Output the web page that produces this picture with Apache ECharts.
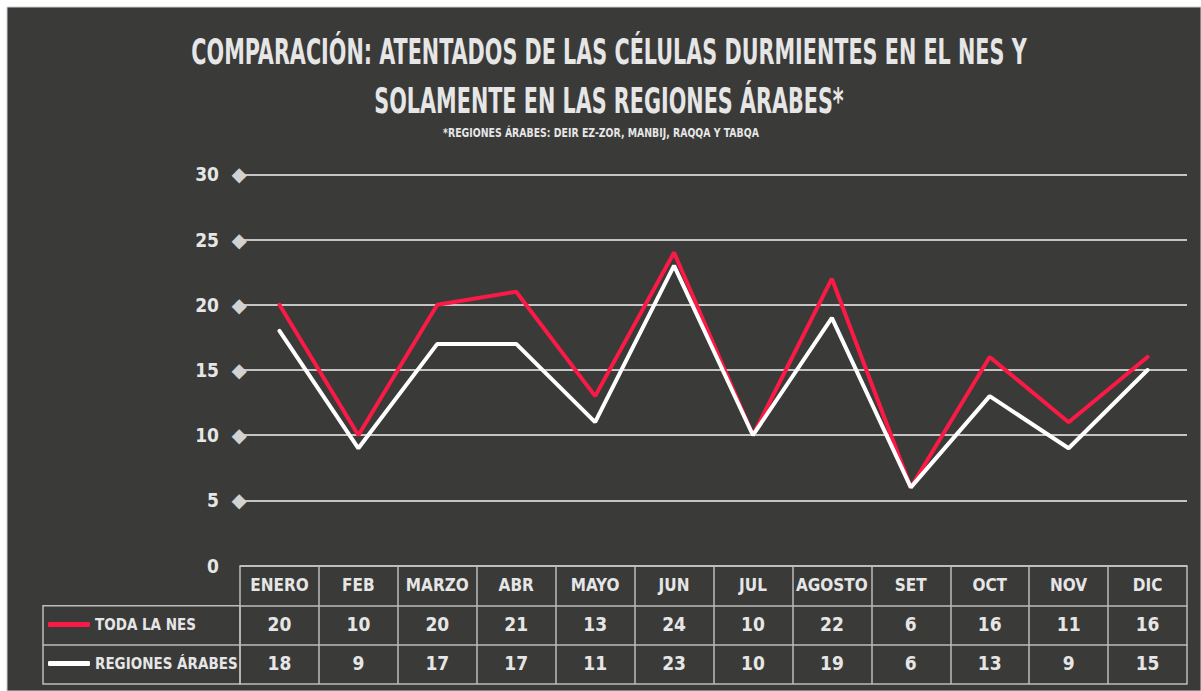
<!DOCTYPE html>
<html>
<head>
<meta charset="utf-8">
<script src="https://cdn.jsdelivr.net/npm/echarts@6/dist/echarts.min.js"></script>
<style>
  html, body { margin: 0; padding: 0; background: #fff; }
  #chart { width: 1201px; height: 691px; }
</style>
</head>
<body>
<div id="chart"></div>
<script>
// data
const meses = ['ENERO', 'FEB', 'MARZO', 'ABR', 'MAYO', 'JUN', 'JUL', 'AGOSTO', 'SET', 'OCT', 'NOV', 'DIC']
const todaLaNes = [20, 10, 20, 21, 13, 24, 10, 22, 6, 16, 11, 16]
const regionesArabes = [18, 9, 17, 17, 11, 23, 10, 19, 6, 13, 9, 15]
const yTicks = [0, 5, 10, 15, 20, 25, 30]

const titulo1 = 'COMPARACIÓN: ATENTADOS DE LAS CÉLULAS DURMIENTES EN EL NES Y'
const titulo2 = 'SOLAMENTE EN LAS REGIONES ÁRABES*'
const nota = '*REGIONES ÁRABES: DEIR EZ-ZOR, MANBIJ, RAQQA Y TABQA'

const FONT = "'DejaVu Sans Condensed', 'Liberation Sans Narrow', sans-serif"
const TXT = '#e6e6e6'
const BORDER = '#bdbdbd'

let myChart = echarts.init(document.getElementById('chart'), null, { renderer: 'svg' })

// one category axis per table row, stacked under the plot
function tablaEje(data, offset, tickLen, margin, size) {
  return {
    type: 'category',
    data: data.map(String),
    position: 'bottom',
    offset: offset,
    boundaryGap: true,
    axisLine: { show: true, lineStyle: { color: BORDER, width: 1.5 } },
    axisTick: { show: tickLen > 0, length: tickLen, lineStyle: { color: BORDER, width: 1.5 } },
    axisLabel: {
      show: data.length > 0,
      interval: 0,
      hideOverlap: false,
      margin: margin,
      color: TXT,
      fontFamily: FONT,
      fontWeight: 'bold',
      fontSize: size,
      lineHeight: 20
    },
    splitLine: { show: false }
  }
}

let option = {
  backgroundColor: '#fff',
  animation: false,
  graphic: [
    { type: 'rect', z: -10, silent: true, shape: { x: 7, y: 7, width: 1194, height: 684 },
      style: { fill: '#3a3a39', stroke: '#cfcfcf', lineWidth: 1 } },
    { type: 'text', x: 609, y: 51, scaleX: 0.64,
      style: { text: titulo1, textAlign: 'center', textVerticalAlign: 'middle', fill: TXT,
               font: `bold 36px ${FONT}` } },
    { type: 'text', x: 609, y: 100, scaleX: 0.64,
      style: { text: titulo2, textAlign: 'center', textVerticalAlign: 'middle', fill: TXT,
               font: `bold 36px ${FONT}` } },
    { type: 'text', x: 601, y: 133, scaleX: 0.8,
      style: { text: nota, textAlign: 'center', textVerticalAlign: 'middle', fill: TXT,
               font: `bold 13px ${FONT}` } },
    // legend column of the table
    { type: 'rect', shape: { x: 43, y: 605.7, width: 197, height: 78.3 },
      style: { fill: 'none', stroke: BORDER, lineWidth: 1.5 } },
    { type: 'line', shape: { x1: 43, y1: 645, x2: 240, y2: 645 },
      style: { stroke: BORDER, lineWidth: 1.5 } }
  ],
  legend: [
    { data: ['TODA LA NES'], left: 48, top: 617, padding: 0, icon: 'roundRect',
      itemWidth: 42, itemHeight: 5, itemGap: 4,
      textStyle: { color: TXT, fontFamily: FONT, fontWeight: 'bold', fontSize: 15 } },
    { data: ['REGIONES ÁRABES'], left: 48, top: 656, padding: 0, icon: 'roundRect',
      itemWidth: 42, itemHeight: 5, itemGap: 4,
      textStyle: { color: TXT, fontFamily: FONT, fontWeight: 'bold', fontSize: 15 } }
  ],
  grid: { left: 240, right: 14, top: 174.3, bottom: 125.3, containLabel: false },
  xAxis: [
    tablaEje(meses, 0, 40, 9, 17),
    tablaEje(todaLaNes, 40, 39.3, 8.3, 19),
    tablaEje(regionesArabes, 79.3, 39, 8, 19),
    tablaEje([], 118.3, 0, 0, 19)
  ],
  yAxis: {
    type: 'value',
    min: yTicks[0],
    max: yTicks[yTicks.length - 1],
    interval: 5,
    axisLine: { show: false },
    axisTick: { show: false },
    splitLine: { show: true, lineStyle: { color: '#c4c4c4', width: 2 } },
    axisLabel: {
      margin: -7,
      formatter: v => v === 0 ? `{n|${v}}{e| }` : `{n|${v}}{d|◆}`,
      rich: {
        n: { color: TXT, fontFamily: FONT, fontWeight: 'bold', fontSize: 19 },
        d: { color: '#d2d2d2', fontSize: 20, width: 28, align: 'right', fontFamily: 'DejaVu Sans' },
        e: { fontSize: 20, width: 28 }
      }
    }
  },
  series: [
    {
      name: 'TODA LA NES',
      type: 'line',
      data: todaLaNes,
      showSymbol: false,
      symbol: 'none',
      itemStyle: { color: '#fb1a45' },
      lineStyle: { color: '#fb1a45', width: 4, cap: 'round' }
    },
    {
      name: 'REGIONES ÁRABES',
      type: 'line',
      data: regionesArabes,
      showSymbol: false,
      symbol: 'none',
      itemStyle: { color: '#ffffff' },
      lineStyle: { color: '#ffffff', width: 4, cap: 'round' }
    }
  ]
}
myChart.setOption(option)
</script>
</body>
</html>
